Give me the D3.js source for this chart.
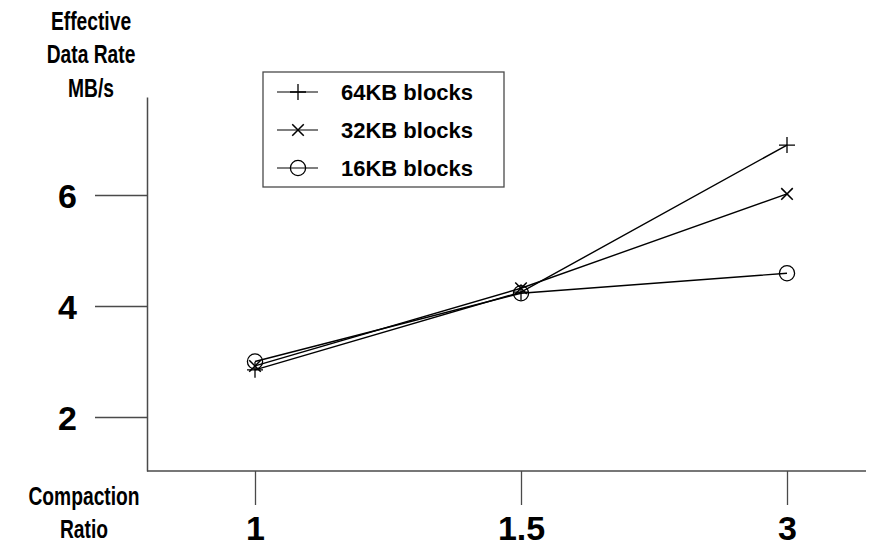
<!DOCTYPE html>
<html>
<head>
<meta charset="utf-8">
<script src="https://cdn.jsdelivr.net/npm/d3@7"></script>
<style>
  body { margin: 0; background: #fff; }
  svg { display: block; }
  text { font-family: "Liberation Sans", Arial, Helvetica, sans-serif; fill: #000; }
</style>
</head>
<body>
<svg id="chart" width="870" height="548"></svg>
<script>
// ---- data ----
const categories = ["1", "1.5", "3"];
const series64 = [2.85, 4.25, 6.90];
const series32 = [2.92, 4.32, 6.02];
const series16 = [3.00, 4.23, 4.59];
const seriesNames = ["64KB blocks", "32KB blocks", "16KB blocks"];
const yTicks = [2, 4, 6];
const yTitle = ["Effective", "Data Rate", "MB/s"];
const xTitle = ["Compaction", "Ratio"];

const series = [
  { name: seriesNames[0], values: series64, marker: "plus" },
  { name: seriesNames[1], values: series32, marker: "cross" },
  { name: seriesNames[2], values: series16, marker: "circle" }
];

const svg = d3.select("#chart");
const axisColor = "#4a4a4a";

const x = d3.scalePoint().domain(categories).range([255, 787]);
const y = d3.scaleLinear().domain([1.027, 7.766]).range([471, 97]);

// y axis
const yAxis = svg.append("g")
  .attr("transform", "translate(147,0)")
  .call(d3.axisLeft(y).tickValues(yTicks).tickSize(52).tickSizeOuter(0).tickPadding(18).tickFormat(d3.format("d")));
yAxis.select(".domain").attr("stroke", axisColor).attr("stroke-width", 1.5);
yAxis.selectAll(".tick line").attr("stroke", axisColor).attr("stroke-width", 1.3);
yAxis.selectAll(".tick text")
  .attr("font-size", 34)
  .attr("font-weight", "bold")
  .attr("font-family", "Liberation Sans, Arial, sans-serif")
  .attr("fill", "#000")
  .attr("dy", "0.36em");

// x axis
const xAxis = svg.append("g")
  .attr("transform", "translate(0,471)")
  .call(d3.axisBottom(x).tickSize(34).tickSizeOuter(0).tickPadding(11));
xAxis.select(".domain").remove();
xAxis.selectAll(".tick line").attr("stroke", axisColor).attr("stroke-width", 1.3);
xAxis.selectAll(".tick text")
  .attr("font-size", 34)
  .attr("font-weight", "bold")
  .attr("font-family", "Liberation Sans, Arial, sans-serif")
  .attr("fill", "#000");
svg.append("line")
  .attr("x1", 147).attr("x2", 866)
  .attr("y1", y(1.027)).attr("y2", y(1.027))
  .attr("stroke", axisColor).attr("stroke-width", 1.5);

// axis titles (condensed bold)
function titleBlock(lines, cx, y0, dy) {
  const g = svg.append("g").attr("transform", `translate(${cx},0) scale(0.74,1)`);
  const t = g.append("text").attr("text-anchor", "middle").attr("font-size", 26).attr("font-weight", "bold");
  lines.forEach((s, i) => t.append("tspan").attr("x", 0).attr("y", y0 + i * dy).text(s));
}
titleBlock(yTitle, 91, 30, 33.5);
titleBlock(xTitle, 84, 505, 33);

// marker drawing
function drawMarker(g, type, cx, cy, s) {
  if (type === "plus") {
    g.append("path")
      .attr("d", `M${cx - s},${cy}H${cx + s}M${cx},${cy - s}V${cy + s}`)
      .attr("stroke", "#000").attr("stroke-width", 1.3).attr("fill", "none");
  } else if (type === "cross") {
    const r = s * 0.72;
    g.append("path")
      .attr("d", `M${cx - r},${cy - r}L${cx + r},${cy + r}M${cx - r},${cy + r}L${cx + r},${cy - r}`)
      .attr("stroke", "#000").attr("stroke-width", 1.5).attr("fill", "none");
  } else {
    g.append("circle")
      .attr("cx", cx).attr("cy", cy).attr("r", s * 0.95)
      .attr("stroke", "#000").attr("stroke-width", 1.3).attr("fill", "none");
  }
}

// lines & markers
const line = d3.line().x((d, i) => x(categories[i])).y(d => y(d));
series.forEach(s => {
  const g = svg.append("g");
  g.append("path")
    .attr("d", line(s.values))
    .attr("fill", "none")
    .attr("stroke", "#000")
    .attr("stroke-width", 1.4);
  s.values.forEach((v, i) => drawMarker(g, s.marker, x(categories[i]), y(v), 8));
});

// legend
const lg = svg.append("g");
lg.append("rect")
  .attr("x", 263).attr("y", 72).attr("width", 241).attr("height", 115)
  .attr("fill", "#fff").attr("stroke", axisColor).attr("stroke-width", 1.3);
series.forEach((s, i) => {
  const cy = 92 + i * 38;
  lg.append("line").attr("x1", 277).attr("x2", 318).attr("y1", cy).attr("y2", cy)
    .attr("stroke", "#000").attr("stroke-width", 1.2);
  drawMarker(lg, s.marker, 298, cy, 8);
  lg.append("text").attr("x", 341).attr("y", cy + 7.5)
    .attr("font-size", 22).attr("font-weight", "bold").text(s.name);
});
</script>
</body>
</html>
